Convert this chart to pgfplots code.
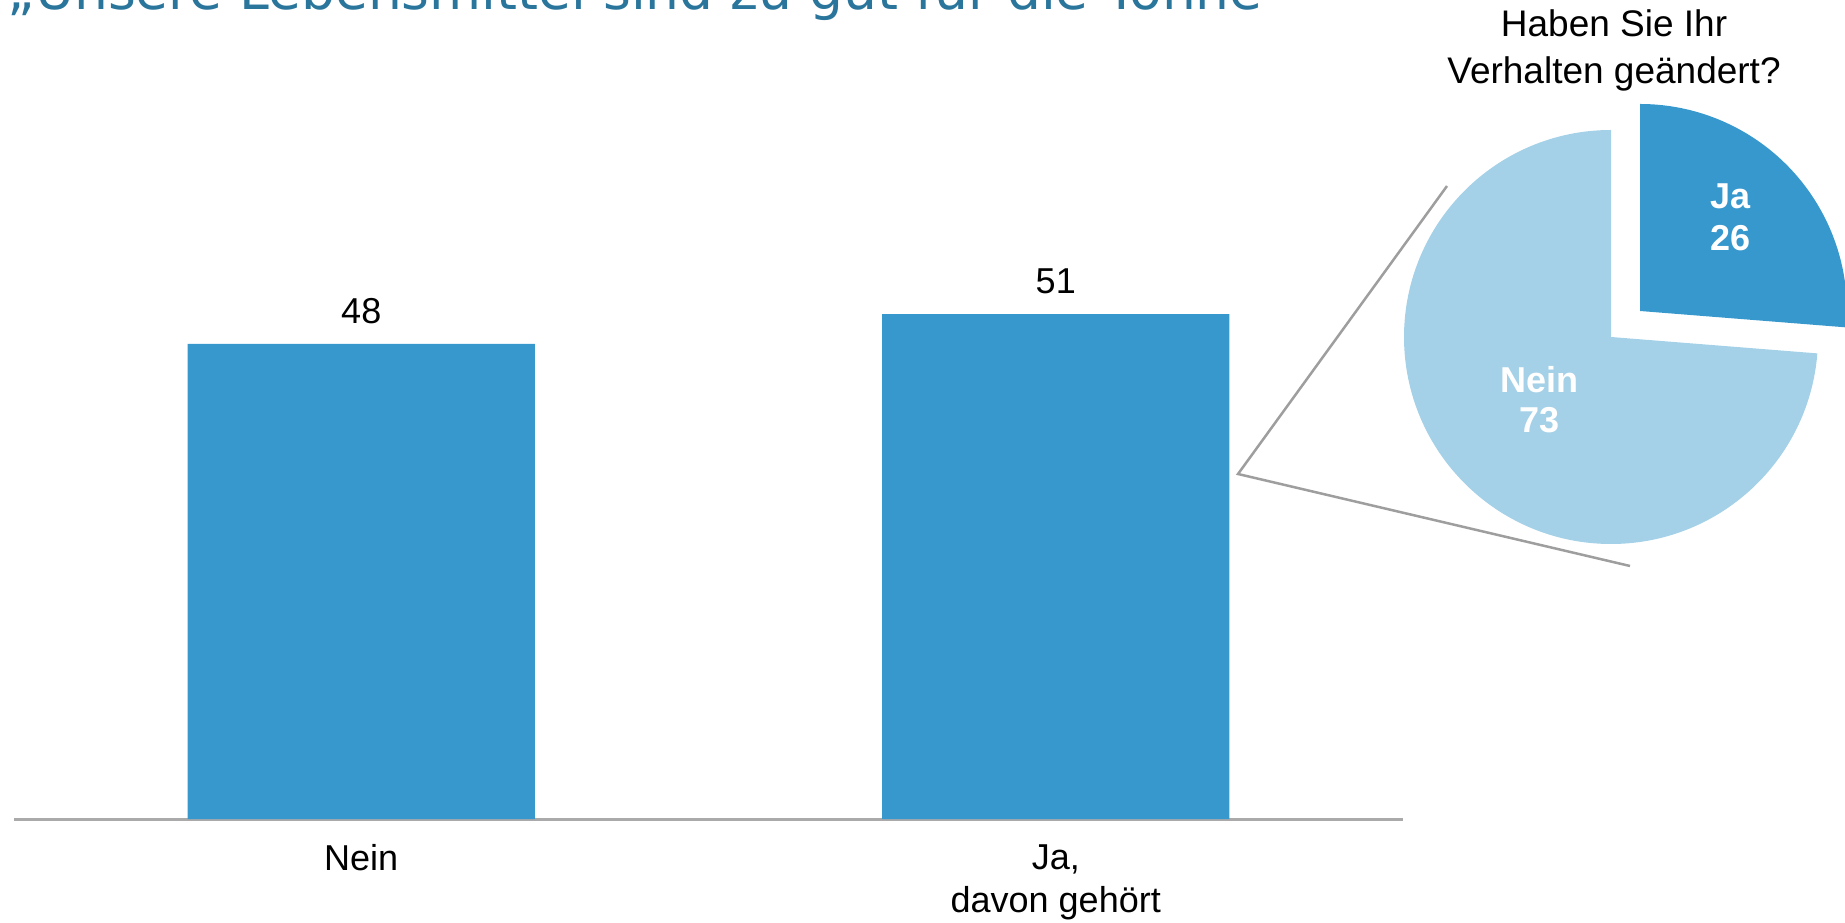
\documentclass[border=0pt]{standalone}
\usepackage{graphicx}
\usepackage{pgfplots}
\pgfplotsset{compat=1.18}
\usepackage{fontspec}
\setmainfont{Liberation Sans}
\newfontfamily\titlefont{DejaVu Sans}
\definecolor{barblue}{RGB}{54,152,204}
\definecolor{lightblue}{RGB}{164,209,231}
\definecolor{titleblue}{RGB}{42,117,155}
\definecolor{axisgray}{RGB}{170,170,170}
\definecolor{linegray}{RGB}{158,158,158}
\def\pieJa{26}
\def\pieNein{73}
\begin{document}
\begin{tikzpicture}
\path[use as bounding box] (0,0) rectangle (922.5pt,461pt);
\begin{axis}[at={(7pt,51.5pt)}, anchor=south west, scale only axis,
  width=694.5pt, height=346.5pt,
  xmin=-0.5, xmax=1.5, ymin=0, ymax=70,
  axis x line=bottom, axis y line=none,
  x axis line style={draw=axisgray, line width=1.5pt, -},
  xtick={0,1}, xticklabels={Nein, {Ja,\\davon gehört}},
  major tick length=0pt,
  xticklabel style={font=\fontsize{18}{21.5}\selectfont, align=center, anchor=north, inner sep=0pt, yshift=-12.5pt},
  ybar, bar width=0.5,
  nodes near coords,
  nodes near coords style={font=\fontsize{18}{21.5}\selectfont, inner sep=0pt, yshift=10pt},
  /pgf/number format/assume math mode=true,
  clip=false]
\addplot[fill=barblue, draw=none] coordinates {(0,48) (1,51)};
\end{axis}
\begin{axis}[at={(0pt,0pt)}, anchor=south west, x=0.5pt, y=0.5pt,
  xmin=0, xmax=1845, ymin=0, ymax=922, hide axis, clip=false]
\pgfmathsetmacro{\jaAng}{360*\pieJa/(\pieJa+\pieNein)}
\fill[lightblue] (axis cs:1611,585) -- (axis cs:1611,792) arc[start angle=90, end angle={450-\jaAng}, radius=103.5pt] -- cycle;
\fill[barblue] (axis cs:1640,611) -- (axis cs:1640,818) arc[start angle=90, end angle={90-\jaAng}, radius=103.5pt] -- cycle;
\addplot[linegray, line width=1.25pt, mark=none] coordinates {(1447,736) (1238,448) (1630,356)};
\node[anchor=base, inner sep=0pt, text=white, font=\bfseries\fontsize{18}{21}\selectfont] at (axis cs:1730,713) {Ja};
\node[anchor=base, inner sep=0pt, text=white, font=\bfseries\fontsize{18}{21}\selectfont] at (axis cs:1730,671) {26};
\node[anchor=base, inner sep=0pt, text=white, font=\bfseries\fontsize{18}{21}\selectfont] at (axis cs:1539,529) {Nein};
\node[anchor=base, inner sep=0pt, text=white, font=\bfseries\fontsize{18}{21}\selectfont] at (axis cs:1539,489) {73};
\node[anchor=base, inner sep=0pt, font=\fontsize{18.5}{22}\selectfont] at (axis cs:1614,885) {Haben Sie Ihr};
\node[anchor=base, inner sep=0pt, font=\fontsize{18.5}{22}\selectfont] at (axis cs:1614,838) {Verhalten geändert?};
\node[anchor=base west, inner sep=0pt, text=titleblue] at (axis cs:7,912) {\resizebox{627.5pt}{!}{\titlefont „Unsere Lebensmittel sind zu gut für die Tonne}};
\end{axis}
\end{tikzpicture}
\end{document}
